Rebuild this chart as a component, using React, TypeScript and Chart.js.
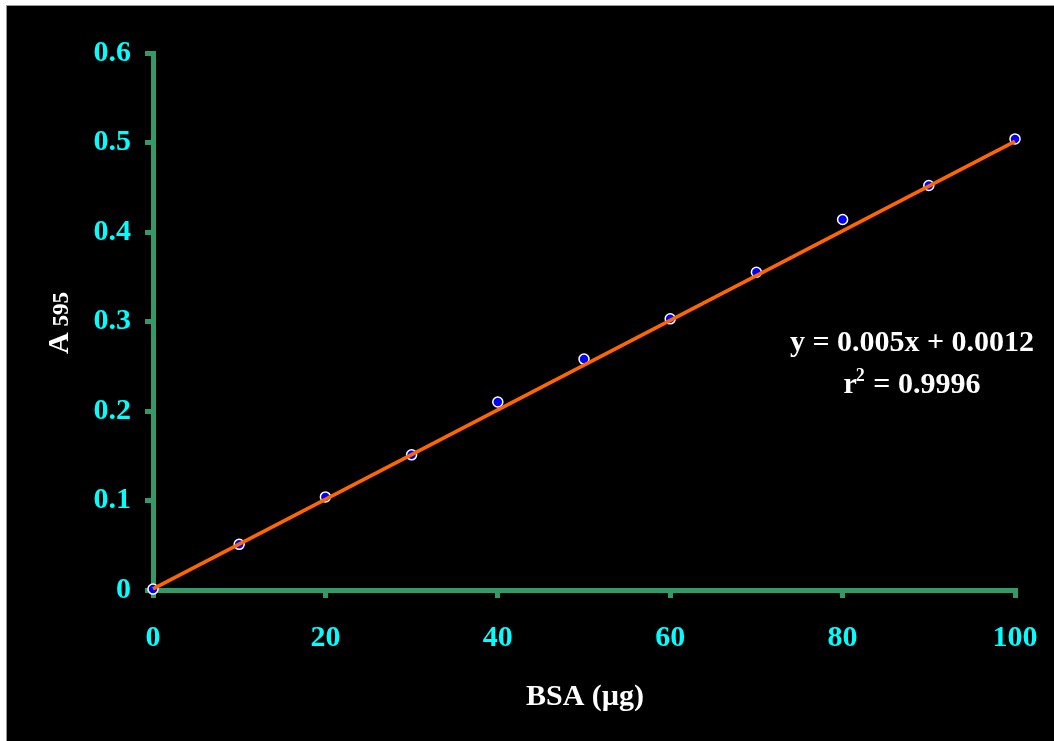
import React, { useEffect, useRef } from "react";
import { Chart, registerables } from "chart.js";

Chart.register(...registerables);

const bsaValues = [0, 10, 20, 30, 40, 50, 60, 70, 80, 90, 100];
const absorbance = [0.001, 0.051, 0.104, 0.151, 0.21, 0.258, 0.303, 0.355, 0.414, 0.452, 0.504];
const trendX = [0, 100];
const trendY = [0.0012, 0.5012];
const equationText = "y = 0.005x + 0.0012";
const r2Value = "0.9996";
const xTitle = "BSA (µg)";
const yTitleMain = "A";
const yTitleSub = "595";

const FONT = "'Liberation Serif', 'Times New Roman', serif";
const GREEN = "#339966";

const textPlugin = {
  id: "textPlugin",
  afterDraw(chart: any) {
    const ctx = chart.ctx;
    ctx.save();
    ctx.fillStyle = "#ffffff";
    // x title
    ctx.font = `bold 30px ${FONT}`;
    ctx.textAlign = "center";
    ctx.textBaseline = "alphabetic";
    ctx.fillText(xTitle, 585, 705);

    // y title rotated
    ctx.save();
    ctx.translate(68, 354);
    ctx.rotate(-Math.PI / 2);
    ctx.textAlign = "left";
    ctx.font = `bold 30px ${FONT}`;
    ctx.fillText(yTitleMain, 0, 0);
    const wA = ctx.measureText(yTitleMain).width;
    ctx.font = `bold 23px ${FONT}`;
    ctx.fillText(" " + yTitleSub, wA, 0);
    ctx.restore();

    // equation
    const cx = 912;
    ctx.font = `bold 30px ${FONT}`;
    ctx.textAlign = "center";
    ctx.fillText(equationText, cx, 351);

    ctx.textAlign = "left";
    ctx.font = `bold 30px ${FONT}`;
    const wr = ctx.measureText("r").width;
    const rest = " = " + r2Value;
    const wrest = ctx.measureText(rest).width;
    ctx.font = `bold 18px ${FONT}`;
    const w2 = ctx.measureText("2").width;
    const total = wr + w2 + wrest;
    let x = cx - total / 2;
    ctx.font = `bold 30px ${FONT}`;
    ctx.fillText("r", x, 393);
    x += wr;
    ctx.font = `bold 18px ${FONT}`;
    ctx.fillText("2", x - 1, 381);
    x += w2;
    ctx.font = `bold 30px ${FONT}`;
    ctx.fillText(rest, x, 393);
    ctx.restore();
  },
};

export default function App() {
  const ref = useRef<HTMLCanvasElement>(null);
  useEffect(() => {
    if (!ref.current) return;
    const chart = new Chart(ref.current, {
      type: "scatter",
      data: {
        datasets: [
          {
            type: "line",
            data: trendX.map((x, i) => ({ x, y: trendY[i] })),
            borderColor: "#FF6600",
            borderWidth: 3.5,
            pointRadius: 0,
            fill: false,
            clip: false,
            order: 0,
          },
          {
            type: "scatter",
            data: bsaValues.map((x, i) => ({ x, y: absorbance[i] })),
            backgroundColor: "#0000FF",
            borderColor: "#FFFFFF",
            borderWidth: 1.5,
            pointRadius: 5,
            clip: false,
            order: 1,
          },
        ],
      },
      options: {
        animation: false,
        responsive: false,
        maintainAspectRatio: false,
        layout: { padding: { left: 0, top: 53, right: 39, bottom: 0 } },
        plugins: { legend: { display: false }, tooltip: { enabled: false } },
        scales: {
          x: {
            type: "linear",
            min: 0,
            max: 100,
            afterFit: (s: any) => {
              s.height = 151;
              s.paddingLeft = 0;
              s.paddingRight = 0;
            },
            ticks: {
              stepSize: 20,
              color: "#00FFFF",
              font: { family: FONT, size: 30, weight: "bold" },
              padding: 22,
              maxRotation: 0,
            },
            grid: {
              drawOnChartArea: false,
              drawTicks: true,
              tickLength: 8,
              tickWidth: 5,
              color: GREEN,
              lineWidth: 5,
            },
            border: { display: true, color: GREEN, width: 5 },
          },
          y: {
            type: "linear",
            min: 0,
            max: 0.6,
            afterFit: (s: any) => {
              s.width = 153;
              s.paddingTop = 0;
              s.paddingBottom = 0;
            },
            ticks: {
              stepSize: 0.1,
              color: "#00FFFF",
              font: { family: FONT, size: 30, weight: "bold" },
              padding: 14,
              callback: (v: any) => String(Math.round(Number(v) * 10) / 10),
            },
            grid: {
              drawOnChartArea: false,
              drawTicks: true,
              tickLength: 8,
              tickWidth: 5,
              color: GREEN,
              lineWidth: 5,
            },
            border: { display: true, color: GREEN, width: 5 },
          },
        },
      },
      plugins: [textPlugin],
    } as any);
    return () => chart.destroy();
  }, []);

  return (
    <div style={{ position: "absolute", left: 0, top: 0, width: 1054, height: 741, background: "#ffffff" }}>
      <div
        style={{
          position: "absolute",
          left: 6,
          top: 5,
          width: 1048,
          height: 736,
          background: "#000000",
          borderLeft: "1px solid #999",
          borderTop: "1px solid #999",
          boxSizing: "border-box",
        }}
      />
      <canvas
        ref={ref}
        width={1054}
        height={741}
        style={{ position: "absolute", left: 0, top: 0, width: 1054, height: 741 }}
      />
    </div>
  );
}
